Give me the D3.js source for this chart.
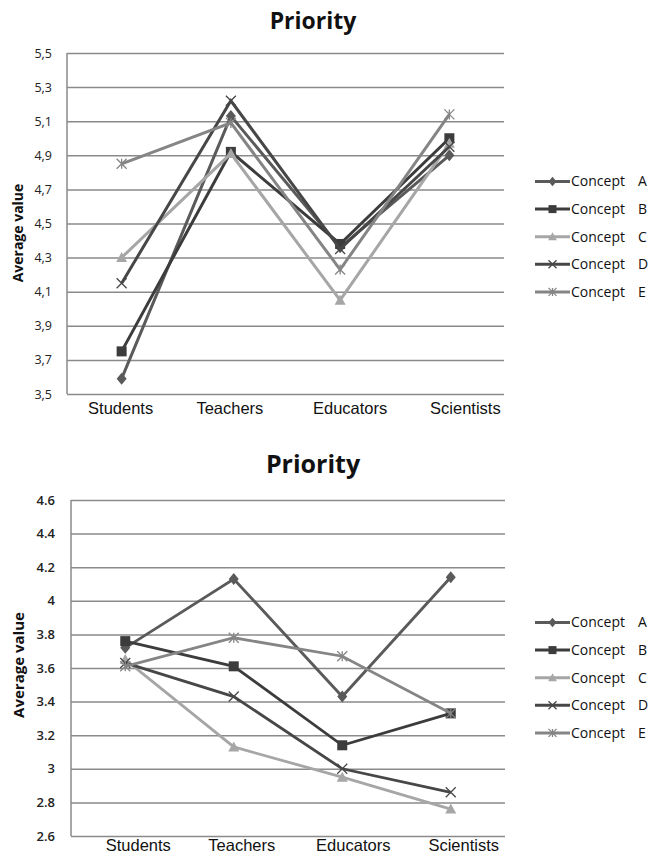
<!DOCTYPE html>
<html>
<head>
<meta charset="utf-8">
<script src="https://cdn.jsdelivr.net/npm/d3@7"></script>
<style>
  html, body { margin: 0; padding: 0; background: #fff; }
  svg { display: block; }
</style>
</head>
<body>
<svg id="chart" width="660" height="857"></svg>
<script>
// ---------- data ----------
const categories = ["Students", "Teachers", "Educators", "Scientists"];
const seriesNames = ["Concept A", "Concept B", "Concept C", "Concept D", "Concept E"];

// Chart 1 (comma decimals)
const top_conceptA = [3.59, 5.13, 4.36, 4.90];
const top_conceptB = [3.75, 4.92, 4.38, 5.00];
const top_conceptC = [4.30, 4.91, 4.05, 4.97];
const top_conceptD = [4.15, 5.22, 4.35, 4.95];
const top_conceptE = [4.85, 5.09, 4.23, 5.14];
const top_tickValues = [3.5, 3.7, 3.9, 4.1, 4.3, 4.5, 4.7, 4.9, 5.1, 5.3, 5.5];
const top_tickLabels = ["3,5", "3,7", "3,9", "4,1", "4,3", "4,5", "4,7", "4,9", "5,1", "5,3", "5,5"];

// Chart 2 (dot decimals)
const bot_conceptA = [3.72, 4.13, 3.43, 4.14];
const bot_conceptB = [3.76, 3.61, 3.14, 3.33];
const bot_conceptC = [3.65, 3.13, 2.95, 2.76];
const bot_conceptD = [3.63, 3.43, 3.00, 2.86];
const bot_conceptE = [3.61, 3.78, 3.67, 3.33];
const bot_tickValues = [2.6, 2.8, 3.0, 3.2, 3.4, 3.6, 3.8, 4.0, 4.2, 4.4, 4.6];
const bot_tickLabels = ["2.6", "2.8", "3", "3.2", "3.4", "3.6", "3.8", "4", "4.2", "4.4", "4.6"];

const title = "Priority";
const yTitle = "Average value";

// ---------- style ----------
const colors = ["#5a5a5a", "#3c3c3c", "#a6a6a6", "#474747", "#858585"];
const markers = ["diamond", "square", "triangle", "x", "asterisk"];

const svg = d3.select("#chart");

function drawMarker(g, type, x, y, color, s) {
  if (type === "diamond") {
    g.append("path").attr("d", `M${x},${y - s * 0.6}L${x + s * 0.5},${y}L${x},${y + s * 0.6}L${x - s * 0.5},${y}Z`).attr("fill", color);
  } else if (type === "square") {
    g.append("rect").attr("x", x - s * 0.5).attr("y", y - s * 0.5).attr("width", s).attr("height", s).attr("fill", color);
  } else if (type === "triangle") {
    g.append("path").attr("d", `M${x},${y - s * 0.55}L${x + s * 0.55},${y + s * 0.45}L${x - s * 0.55},${y + s * 0.45}Z`).attr("fill", color);
  } else if (type === "x") {
    const h = s * 0.5;
    g.append("path").attr("d", `M${x - h},${y - h}L${x + h},${y + h}M${x - h},${y + h}L${x + h},${y - h}`)
      .attr("stroke", color).attr("stroke-width", 1.3).attr("fill", "none");
  } else if (type === "asterisk") {
    const h = s * 0.5;
    g.append("path").attr("d", `M${x - h},${y - h}L${x + h},${y + h}M${x - h},${y + h}L${x + h},${y - h}M${x},${y - h}L${x},${y + h}`)
      .attr("stroke", color).attr("stroke-width", 1.3).attr("fill", "none");
  }
}

function drawChart(cfg) {
  const g = svg.append("g");
  const x = d3.scaleBand().domain(categories).range([cfg.x0, cfg.x1]);
  const y = d3.scaleLinear().domain([cfg.tickValues[0], cfg.tickValues[cfg.tickValues.length - 1]]).range([cfg.y1, cfg.y0]);

  // gridlines + y tick labels
  const yAxis = d3.axisLeft(y)
    .tickValues(cfg.tickValues)
    .tickFormat((d, i) => cfg.tickLabels[i])
    .tickSize(-(cfg.x1 - cfg.x0))
    .tickPadding(cfg.tickPad);
  const ya = g.append("g").attr("transform", `translate(${cfg.x0},0)`).call(yAxis);
  ya.select(".domain").attr("stroke", "#8a8a8a").attr("stroke-width", 1.5).attr("d", `M0,${cfg.y0}V${cfg.y1}`);
  ya.selectAll(".tick line").attr("stroke", "#8a8a8a").attr("stroke-width", 1.5);
  ya.selectAll(".tick text")
    .attr("font-family", "'Open Sans', sans-serif")
    .attr("font-size", cfg.tickFont)
    .attr("font-weight", cfg.tickWeight)
    .attr("fill", "#222");

  // x axis labels
  const xAxis = d3.axisBottom(x).tickSize(0).tickPadding(cfg.xPad);
  const xa = g.append("g").attr("transform", `translate(0,${cfg.y1})`).call(xAxis);
  xa.select(".domain").remove();
  xa.selectAll(".tick text")
    .attr("font-family", "'Liberation Sans', Arial, sans-serif")
    .attr("font-size", cfg.xFont)
    .attr("fill", "#111")
    .attr("dx", (d, i) => cfg.xShift[i]);

  // title
  g.append("text").attr("x", cfg.titleX).attr("y", cfg.titleY)
    .attr("text-anchor", "middle")
    .attr("font-family", "'Open Sans', sans-serif").attr("font-weight", 700)
    .attr("font-size", cfg.titleFont).attr("fill", "#111").text(title);

  // y axis title
  g.append("text")
    .attr("transform", `translate(${cfg.yTitleX},${cfg.yTitleY}) rotate(-90)`)
    .attr("text-anchor", "middle")
    .attr("font-family", "'Open Sans', sans-serif").attr("font-weight", 700)
    .attr("font-size", cfg.yTitleFont).attr("fill", "#111").text(yTitle);

  // series
  const cx = c => x(c) + x.bandwidth() / 2;
  const line = d3.line().x((d, i) => cx(categories[i])).y(d => y(d));
  cfg.series.forEach((vals, si) => {
    g.append("path").datum(vals).attr("d", line)
      .attr("fill", "none").attr("stroke", colors[si]).attr("stroke-width", cfg.lineW)
      .attr("stroke-linejoin", "miter");
    vals.forEach((v, i) => drawMarker(g, markers[si], cx(categories[i]), y(v), colors[si], cfg.markerSize));
  });

  // legend
  const lg = g.append("g");
  seriesNames.forEach((name, si) => {
    const ly = cfg.legendY + si * 27.6;
    lg.append("line").attr("x1", 535).attr("x2", 570).attr("y1", ly).attr("y2", ly)
      .attr("stroke", colors[si]).attr("stroke-width", 3);
    drawMarker(lg, markers[si], 552.5, ly, colors[si], 8);
    const parts = name.split(" ");
    lg.append("text").attr("x", 571).attr("y", ly).attr("dy", "0.35em")
      .attr("font-family", "'Open Sans', sans-serif").attr("font-size", 14).attr("font-weight", 500).attr("fill", "#111").text(parts[0]);
    lg.append("text").attr("x", 638).attr("y", ly).attr("dy", "0.35em")
      .attr("font-family", "'Open Sans', sans-serif").attr("font-size", 14).attr("font-weight", 500).attr("fill", "#111").text(parts[1]);
  });
}

drawChart({
  x0: 67, x1: 504, y0: 53, y1: 394,
  tickValues: top_tickValues, tickLabels: top_tickLabels,
  tickPad: 15, tickFont: 12.5, tickWeight: 400,
  xPad: 8, xFont: 16.5, xShift: [-1, -1, 10, 16],
  titleX: 313, titleY: 29, titleFont: 23,
  yTitleX: 23, yTitleY: 233, yTitleFont: 14,
  lineW: 3, markerSize: 10,
  series: [top_conceptA, top_conceptB, top_conceptC, top_conceptD, top_conceptE],
  legendY: 181.5
});

drawChart({
  x0: 71, x1: 505, y0: 500, y1: 836,
  tickValues: bot_tickValues, tickLabels: bot_tickLabels,
  tickPad: 16, tickFont: 13, tickWeight: 600,
  xPad: 3, xFont: 16.5, xShift: [13, 8, 11, 13],
  titleX: 313, titleY: 473, titleFont: 25,
  yTitleX: 24, yTitleY: 665, yTitleFont: 15,
  lineW: 2.8, markerSize: 10,
  series: [bot_conceptA, bot_conceptB, bot_conceptC, bot_conceptD, bot_conceptE],
  legendY: 622.5
});
</script>
</body>
</html>
